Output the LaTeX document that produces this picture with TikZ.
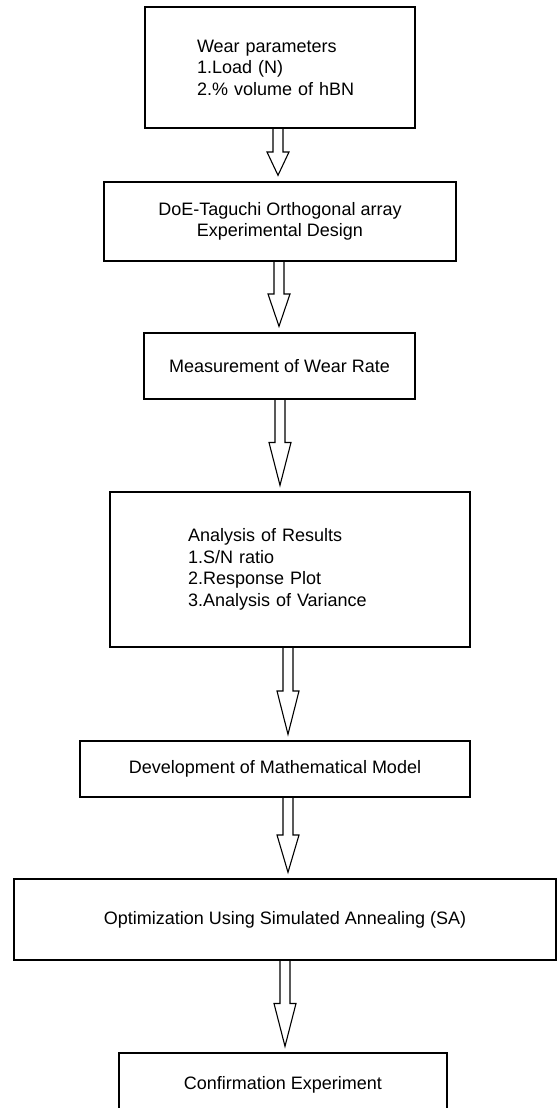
\documentclass[tikz,border=0pt]{standalone}
\usepackage{fontspec}
\setmainfont{Liberation Sans}
\usetikzlibrary{positioning, calc}
\tikzset{x=1pt, y=-1pt,
         flowbox/.style={draw, line width=1.4pt, inner sep=0pt,
                         font=\fontsize{18}{21.5}\selectfont, align=center},
         flowarr/.style={line width=1.1pt, line join=miter},
         }
% hollow block arrow: x position, from node, to node
\newcommand{\flowarrow}[3]{%
  \draw[flowarr] let \p1=(#2.south), \p3=(#1,0), \p4=($(#3.north)+(0,6pt)$),
      \p5=($(\p1)!0.5!(\p4)$) in
    (\x3-5pt,\y1) -- (\x3-5pt,\y5) -- (\x3-11pt,\y5) -- (\x3,\y4)
    -- (\x3+11pt,\y5) -- (\x3+5pt,\y5) -- (\x3+5pt,\y1);}

\begin{document}
\begin{tikzpicture}
    \useasboundingbox (0,0) rectangle (557,1108);
    \node[flowbox, minimum width=270pt, minimum height=121pt, text width=166pt,
          align=left] (params) at (280,67.5)
          {Wear parameters\\1.Load (N)\\2.\% volume of hBN};
    \node[flowbox, node distance=154pt, below of=params, xshift=0pt,
          minimum width=352pt, minimum height=79pt] (doe)
          {DoE-Taguchi Orthogonal array\\Experimental Design};
    \node[flowbox, node distance=144.5pt, below of=doe, xshift=-0.5pt,
          minimum width=271pt, minimum height=66pt] (measure)
          {Measurement of Wear Rate};
    \node[flowbox, node distance=203.5pt, below of=measure, xshift=10.5pt,
          minimum width=360pt, minimum height=155pt, text width=204pt,
          align=left] (analysis)
          {Analysis of Results\\1.S/N ratio\\2.Response Plot\\3.Analysis of Variance};
    \node[flowbox, node distance=199.5pt, below of=analysis, xshift=-15pt,
          minimum width=390pt, minimum height=56pt] (model)
          {Development of Mathematical Model};
    \node[flowbox, node distance=150.5pt, below of=model, xshift=10pt,
          minimum width=542pt, minimum height=81pt] (anneal)
          {Optimization Using Simulated Annealing (SA)};
    \node[flowbox, node distance=165.5pt, below of=anneal, xshift=-2pt,
          minimum width=328pt, minimum height=64pt] (confirm)
          {Confirmation Experiment};

    \flowarrow{278}{params}{doe}
    \flowarrow{279}{doe}{measure}
    \flowarrow{280}{measure}{analysis}
    \flowarrow{288}{analysis}{model}
    \flowarrow{288}{model}{anneal}
    \flowarrow{285}{anneal}{confirm}
\end{tikzpicture}
\end{document}
